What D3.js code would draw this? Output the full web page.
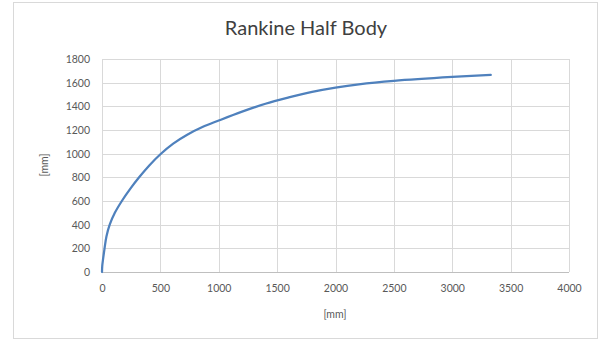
<!DOCTYPE html>
<html>
<head>
<meta charset="utf-8">
<script src="https://cdn.jsdelivr.net/npm/d3@7"></script>
<style>
  html, body { margin: 0; padding: 0; background: #fff; }
  svg { display: block; font-family: Lato, "Open Sans", sans-serif; }
</style>
</head>
<body>
<svg id="chart" width="603" height="341"></svg>
<script>
// Body contour of a Rankine half body, in millimetres
const xValues = [0, 2, 8, 22, 38, 66, 110, 170, 240, 318, 405, 500, 610, 730, 860, 1000,
                 1200, 1400, 1600, 1800, 2000, 2200, 2500, 3000, 3330];
const yValues = [0, 50, 100, 200, 300, 400, 500, 600, 700, 800, 900, 995, 1085, 1160, 1225, 1280,
                 1355, 1422, 1475, 1522, 1558, 1586, 1615, 1648, 1665];
const xTicks = [0, 500, 1000, 1500, 2000, 2500, 3000, 3500, 4000];
const yTicks = [0, 200, 400, 600, 800, 1000, 1200, 1400, 1600, 1800];

const titleText = "Rankine Half Body";
const xTitle = "[mm]";
const yTitle = "[mm]";

const svg = d3.select("#chart");

// chart frame
svg.append("rect")
  .attr("x", 13.5).attr("y", 2.5)
  .attr("width", 584).attr("height", 336)
  .attr("fill", "#fff").attr("stroke", "#d9d9d9");

const plot = { left: 102, right: 569, top: 59, bottom: 272 };

const x = d3.scaleLinear().domain([0, 4000]).range([plot.left, plot.right]);
const y = d3.scaleLinear().domain([0, 1800]).range([plot.bottom, plot.top]);

// gridlines
const grid = svg.append("g");
grid.selectAll("line.h").data(yTicks).join("line")
  .attr("class", "h")
  .attr("x1", plot.left).attr("x2", plot.right)
  .attr("y1", d => Math.round(y(d)) + 0.5).attr("y2", d => Math.round(y(d)) + 0.5)
  .attr("stroke", "#d9d9d9").attr("stroke-width", 1);
grid.selectAll("line.v").data(xTicks).join("line")
  .attr("class", "v")
  .attr("y1", plot.top).attr("y2", plot.bottom)
  .attr("x1", d => Math.round(x(d)) + 0.5).attr("x2", d => Math.round(x(d)) + 0.5)
  .attr("stroke", "#d9d9d9").attr("stroke-width", 1);

// axes
const xAxis = d3.axisBottom(x).tickValues(xTicks).tickSize(0).tickPadding(13).tickFormat(d3.format("d"));
const yAxis = d3.axisLeft(y).tickValues(yTicks).tickSize(0).tickPadding(12).tickFormat(d3.format("d"));

const gx = svg.append("g").attr("transform", `translate(0,${plot.bottom})`).call(xAxis);
const gy = svg.append("g").attr("transform", `translate(${plot.left},0)`).call(yAxis);
[gx, gy].forEach(g => {
  g.select(".domain").remove();
  g.selectAll("text").attr("fill", "#595959").style("font-size", "10.5px")
    .style("font-family", "Lato, 'Open Sans', sans-serif");
});
// horizontal axis line
svg.append("line")
  .attr("x1", plot.left).attr("x2", plot.right)
  .attr("y1", Math.round(y(0)) + 0.5).attr("y2", Math.round(y(0)) + 0.5)
  .attr("stroke", "#bfbfbf");

// data line
const pts = xValues.map((d, i) => [d, yValues[i]]);
svg.append("path")
  .datum(pts)
  .attr("fill", "none")
  .attr("stroke", "#4f81bd")
  .attr("stroke-width", 2.25)
  .attr("stroke-linejoin", "round")
  .attr("stroke-linecap", "round")
  .attr("d", d3.line().x(d => x(d[0])).y(d => y(d[1])).curve(d3.curveCatmullRom.alpha(0.5)));

// titles
svg.append("text")
  .attr("x", 306).attr("y", 35)
  .attr("text-anchor", "middle")
  .attr("fill", "#404040")
  .style("font-size", "20px")
  .text(titleText);

svg.append("text")
  .attr("x", 335).attr("y", 318)
  .attr("text-anchor", "middle")
  .attr("fill", "#595959")
  .style("font-size", "10.5px")
  .text(xTitle);

svg.append("text")
  .attr("transform", "translate(48,165) rotate(-90)")
  .attr("text-anchor", "middle")
  .attr("fill", "#595959")
  .style("font-size", "10.5px")
  .text(yTitle);
</script>
</body>
</html>
